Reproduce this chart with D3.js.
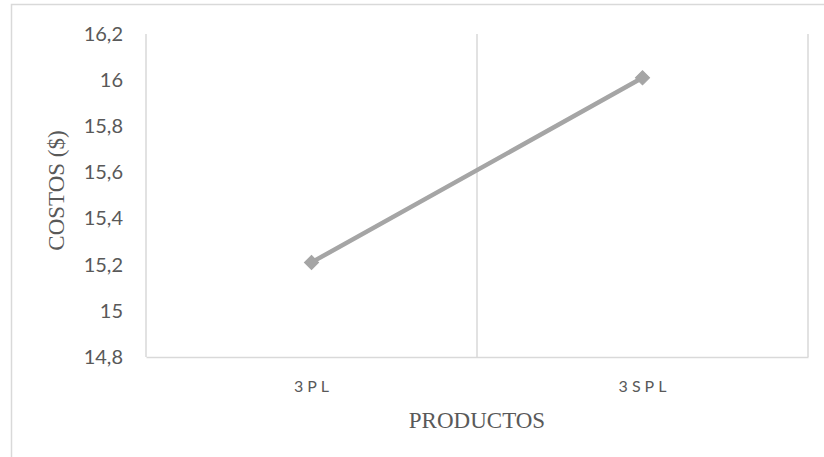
<!DOCTYPE html>
<html>
<head>
<meta charset="utf-8">
<script src="https://cdn.jsdelivr.net/npm/d3@7"></script>
<style>
  html, body { margin: 0; padding: 0; background: #ffffff; }
  svg { display: block; }
</style>
</head>
<body>
<svg id="chart" width="824" height="457"></svg>
<script>
// Costs per product
const categories = ["3PL", "3SPL"];
const costValues = [15.21, 16.01];
const yTickValues = [14.8, 15, 15.2, 15.4, 15.6, 15.8, 16, 16.2];
const yTickLabels = ["14,8", "15", "15,2", "15,4", "15,6", "15,8", "16", "16,2"];
const xTitle = "PRODUCTOS";
const yTitle = "COSTOS ($)";

const svg = d3.select("#chart");
const W = 824, H = 457;
const plot = { left: 146, right: 808, top: 34, bottom: 357 };
const gridColor = "#d9d9d9";
const textColor = "#595959";
const seriesColor = "#a5a5a5";

// outer chart frame
svg.append("rect")
  .attr("x", 11.5).attr("y", 4.5)
  .attr("width", W).attr("height", H)
  .attr("fill", "#fff")
  .attr("stroke", gridColor).attr("stroke-width", 1.5);

const x = d3.scaleBand().domain(categories).range([plot.left, plot.right]).padding(0);
const y = d3.scaleLinear().domain([14.8, 16.2]).range([plot.bottom, plot.top]);

// vertical gridlines at category boundaries
const edges = categories.map(c => x(c)).concat([x.range()[1]]);
svg.append("g").selectAll("line").data(edges).join("line")
  .attr("x1", d => d).attr("x2", d => d)
  .attr("y1", plot.top).attr("y2", plot.bottom)
  .attr("stroke", gridColor).attr("stroke-width", 1.5);

// category axis
const xAxis = svg.append("g")
  .attr("transform", `translate(0,${plot.bottom})`)
  .call(d3.axisBottom(x).tickSize(0).tickPadding(0));
xAxis.select(".domain").attr("stroke", gridColor).attr("stroke-width", 1.5);
xAxis.selectAll("text")
  .attr("y", 35)
  .attr("dy", 0)
  .attr("dx", 2)
  .attr("fill", textColor)
  .style("font-family", "Lato, 'Open Sans', sans-serif")
  .style("font-size", "16px")
  .style("letter-spacing", "4px");

// value axis
const yAxis = svg.append("g")
  .attr("transform", `translate(${plot.left},0)`)
  .call(d3.axisLeft(y).tickValues(yTickValues).tickSize(0).tickPadding(23)
    .tickFormat((d, i) => yTickLabels[i]));
yAxis.select(".domain").remove();
yAxis.selectAll("text")
  .attr("fill", textColor)
  .style("font-family", "Lato, 'Open Sans', sans-serif")
  .style("font-size", "20px");

// series line
const line = d3.line()
  .x((d, i) => x(categories[i]) + x.bandwidth() / 2)
  .y(d => y(d));
svg.append("path")
  .datum(costValues)
  .attr("d", line)
  .attr("fill", "none")
  .attr("stroke", seriesColor)
  .attr("stroke-width", 4.5)
  .attr("stroke-linecap", "round");

// diamond markers
const diamond = d3.symbol(d3.symbolSquare, 100);
svg.append("g").selectAll("path").data(costValues).join("path")
  .attr("d", diamond)
  .attr("transform", (d, i) => `translate(${x(categories[i]) + x.bandwidth() / 2},${y(d)}) rotate(45)`)
  .attr("fill", seriesColor)
  .attr("stroke", seriesColor)
  .attr("stroke-width", 1);

// axis titles
svg.append("text")
  .attr("x", (plot.left + plot.right) / 2)
  .attr("y", 428)
  .attr("text-anchor", "middle")
  .attr("fill", textColor)
  .style("font-family", "'Liberation Serif', 'Times New Roman', serif")
  .style("font-size", "23px")
  .text(xTitle);

svg.append("text")
  .attr("transform", `translate(64,${(plot.top + plot.bottom) / 2 - 5}) rotate(-90)`)
  .attr("text-anchor", "middle")
  .attr("fill", textColor)
  .style("font-family", "'Liberation Serif', 'Times New Roman', serif")
  .style("font-size", "23px")
  .text(yTitle);
</script>
</body>
</html>
